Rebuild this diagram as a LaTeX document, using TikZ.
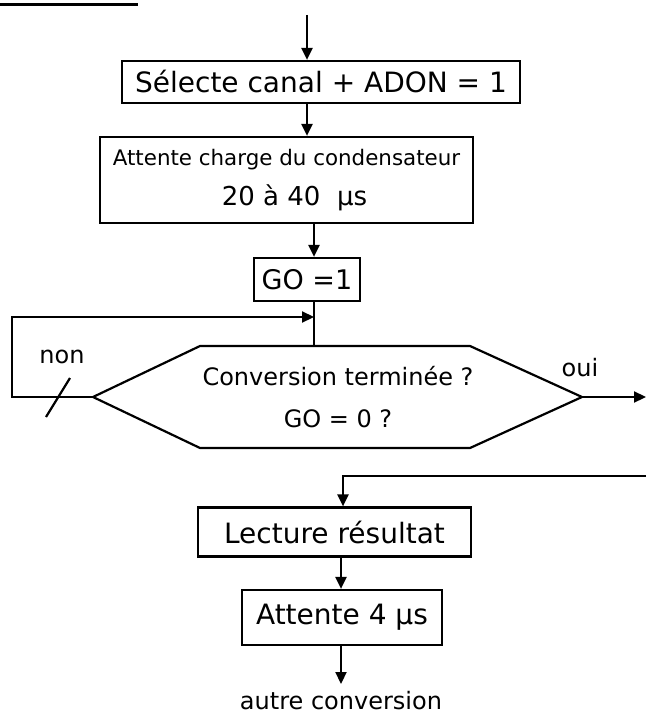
\documentclass[tikz,border=0pt]{standalone}
\usepackage{fontspec}
\setmainfont{DejaVu Sans}
\usetikzlibrary{arrows.meta,calc}
\tikzset{
  flow/.style={line width=2.2pt},
  arr/.style={flow,-{Triangle[length=12pt,width=11pt]}},
  box/.style={draw,line width=2.2pt,inner sep=0pt,align=center},
  txt/.style={inner sep=0pt,align=center,font=\fontsize{24}{42}\selectfont},
}
\begin{document}
\begin{tikzpicture}[x=1pt,y=-1pt]
\useasboundingbox (0,0) rectangle (646,714);
% heading rule, cut at the top edge
\draw[line width=3pt] (0,5) -- (138,5);

% process boxes
\node[box,minimum width=398pt,minimum height=42pt,font=\fontsize{28}{30}\selectfont] (sel) at (321,82) {Sélecte canal + ADON = 1};
\node[box,minimum width=373pt,minimum height=86pt,font=\fontsize{21.4}{40}\selectfont] (wait) at (286.5,180) {Attente charge du condensateur\\{\fontsize{26}{40}\selectfont\hspace*{16pt}20 à 40~ µs}};
\node[box,minimum width=106pt,minimum height=43pt,font=\fontsize{27}{30}\selectfont] (go) at (307,279.5) {GO =1};
\node[box,minimum width=273pt,minimum height=49pt,font=\fontsize{28}{30}\selectfont] (read) at (334.5,532) {Lecture résultat};
\node[box,minimum width=200pt,minimum height=55pt,font=\fontsize{28}{30}\selectfont] (pause) at (342,617.5) {Attente 4 µs};

% decision hexagon
\coordinate (hl) at (93,397);
\coordinate (htl) at (200,346);
\coordinate (htr) at (470,346);
\coordinate (hr) at (582,397);
\coordinate (hbr) at (470,448);
\coordinate (hbl) at (200,448);
\draw[flow,line join=miter] (hl) -- (htl) -- (htr) -- (hr) -- (hbr) -- (hbl) -- cycle;
\node[txt] (test) at (338,397) {Conversion terminée ?\\GO = 0 ?};

% free ends and bends
\coordinate (start) at (307,15);
\coordinate (xa) at (307,0);
\coordinate (xb) at (314,0);
\coordinate (xc) at (343,0);
\coordinate (xd) at (341,0);
\coordinate (loopA) at (12,397);
\coordinate (loopB) at (12,317);
\coordinate (join) at (314,317);
\coordinate (outR) at (646,397);
\coordinate (inR) at (646,476);
\coordinate (inL) at (343,476);
\coordinate (endP) at (341,684);

% connectors
\draw[arr] (start) -- (sel.north -| xa);
\draw[arr] (sel.south -| xa) -- (wait.north -| xa);
\draw[arr] (wait.south -| xb) -- (go.north -| xb);
\draw[flow] (go.south -| xb) -- (htl -| xb);
\draw[arr] (hl) -- (loopA) -- (loopB) -- (join);
\draw[arr] (hr) -- (outR);
\draw[arr] (inR) -- (inL) -- (read.north -| xc);
\draw[arr] (read.south -| xd) -- (pause.north -| xd);
\draw[arr] (pause.south -| xd) -- (endP);

% branch labels and the "non" tick
\node[txt] (non) at (62,357) {non};
\node[txt] (oui) at (580,368) {oui};
\coordinate (tickA) at (46,417);
\coordinate (tickB) at (70,378);
\draw[flow] (tickA) -- (tickB);
\node[txt,anchor=base] (next) at (341,709) {autre conversion};
\end{tikzpicture}
\end{document}
